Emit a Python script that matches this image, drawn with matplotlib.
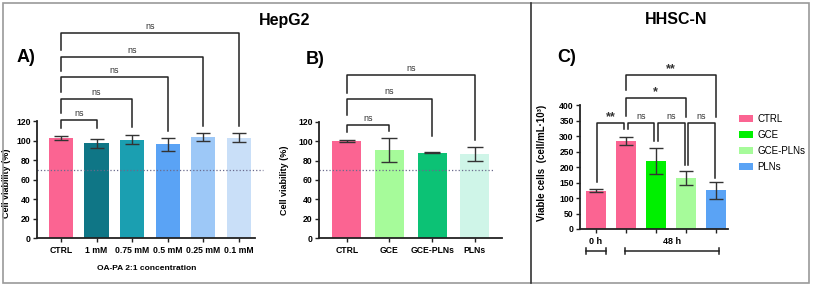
import numpy as np
import matplotlib
matplotlib.use("Agg")
import matplotlib.pyplot as plt
from matplotlib.patches import Patch, Rectangle
from matplotlib.lines import Line2D

plt.rcParams['font.family'] = ['Liberation Sans', 'DejaVu Sans']

W, H = 813, 290

# panel A - HepG2, OA-PA concentrations
a_labels = ['CTRL', '1 mM', '0.75 mM', '0.5 mM', '0.25 mM', '0.1 mM']
a_means = [103, 97, 101, 96, 103.5, 103]
a_err = [2, 5, 5, 7, 4.5, 5]
a_colors = ['#fb6492', '#0f7686', '#1b9fb1', '#5aa3f5', '#9dc8f7', '#c9dff8']

# panel B - HepG2, treatments
b_labels = ['CTRL', 'GCE', 'GCE-PLNs', 'PLNs']
b_means = [100, 91, 88, 87]
b_err = [1, 12.5, 0.5, 7]
b_colors = ['#fb6492', '#a6fb9a', '#0cc275', '#cff5e8']

# panel C - HHSC-N viable cells
c_groups = ['CTRL', 'CTRL', 'GCE', 'GCE-PLNs', 'PLNs']
c_means = [124, 285, 220, 165, 125]
c_err = [4, 14, 42, 22, 28]
c_colors = ['#fb6492', '#fb6492', '#00f000', '#a6fb9a', '#5aa3f5']
legend_labels = ['CTRL', 'GCE', 'GCE-PLNs', 'PLNs']
legend_colors = ['#fb6492', '#00f000', '#a6fb9a', '#5aa3f5']

# significance brackets: (x1, x2, level, left leg end, right leg end, text)
a_brackets = [(0, 1, 121, 113, 113, 'ns'), (0, 2, 143, 128, 114, 'ns'),
              (0, 3, 165, 150, 110, 'ns'), (0, 4, 186, 171, 115, 'ns'),
              (0, 5, 210, 193, 115, 'ns')]
b_brackets = [(0, 1, 117, 110, 111, 'ns'), (0, 2, 144, 127, 105, 'ns'),
              (0, 3, 168, 150, 101, 'ns')]
c_brackets = [(1.0, 4.0, 498, 450, 363, '**'), (1.0, 3.0, 423, 366, 363, '*'),
              (0.02, 0.95, 342, 152, 324, '**'), (1.06, 1.95, 342, 324, 285, 'ns'),
              (2.06, 2.98, 342, 285, 207, 'ns'), (3.07, 3.98, 342, 207, 165, 'ns')]

line_col = '#222222'

fig = plt.figure(figsize=(W / 100, H / 100), dpi=100)


def add_ax(left, right, bottom, top):
    return fig.add_axes([left / W, 1 - bottom / H, (right - left) / W, (bottom - top) / H])


def style(ax, ymax, step):
    for s in ['top', 'right']:
        ax.spines[s].set_visible(False)
    ax.spines['left'].set_bounds(0, ymax)
    for s in ['left', 'bottom']:
        ax.spines[s].set_linewidth(1.3)
        ax.spines[s].set_color(line_col)
    ax.set_yticks(np.arange(0, ymax + 1, step))
    ax.tick_params(axis='both', length=3, width=1, color=line_col, labelsize=6.2, pad=1.5)
    for t in ax.get_yticklabels() + ax.get_xticklabels():
        t.set_fontweight('bold')


def draw_brackets(ax, brackets):
    for x1, x2, y, e1, e2, txt in brackets:
        ax.plot([x1, x1, x2, x2], [e1, y, y, e2], color=line_col, lw=1.1, clip_on=False)
        star = '*' in txt
        ax.annotate(txt, ((x1 + x2) / 2, y), xytext=(0, 0 if star else 1.5),
                    textcoords='offset points', ha='center', va='bottom',
                    fontsize=9 if star else 6.5, color='#333333',
                    fontweight='bold' if star else 'normal')


# ---- A
ax = add_ax(37, 255, 238, 25)
xa = np.arange(len(a_labels))
ax.bar(xa, a_means, width=0.68, color=a_colors)
ax.errorbar(xa, a_means, yerr=a_err, fmt='none', ecolor='#333333', elinewidth=1, capsize=5, capthick=1)
ax.set_xlim(-0.676, 5.46)
ax.set_ylim(0, 218.5)
ax.set_xticks(xa)
ax.set_xticklabels(a_labels)
style(ax, 120, 20)
ax.tick_params(axis='x', pad=3)
ax.plot([-0.676, 5.69], [70, 70], ls=':', color='#6a6a8c', lw=0.9, clip_on=False)
draw_brackets(ax, a_brackets)
ax.set_ylabel('Cell viability (%)', fontsize=6.5, fontweight='bold')
ax.yaxis.set_label_coords(-0.119, 0.258)
ax.set_xlabel('OA-PA 2:1 concentration', fontsize=6, fontweight='bold')
ax.xaxis.set_label_coords(0.505, -0.127)

# ---- B
ax = add_ax(319, 502, 238, 25)
xb = np.arange(len(b_labels))
ax.bar(xb, b_means, width=0.68, color=b_colors)
ax.errorbar(xb, b_means, yerr=b_err, fmt='none', ecolor='#333333', elinewidth=1, capsize=6, capthick=1)
ax.set_xlim(-0.649, 3.637)
ax.set_ylim(0, 220)
ax.set_xticks(xb)
ax.set_xticklabels(b_labels)
style(ax, 120, 20)
ax.tick_params(axis='x', pad=3)
ax.plot([-0.649, 3.43], [70, 70], ls=':', color='#6a6a8c', lw=0.9, clip_on=False)
draw_brackets(ax, b_brackets)
ax.set_ylabel('Cell viability (%)', fontsize=6.5, fontweight='bold')
ax.yaxis.set_label_coords(-0.164, 0.272)

# ---- C
ax = add_ax(580, 728, 229, 50)
xc = np.arange(len(c_groups))
ax.bar(xc, c_means, width=0.67, color=c_colors)
ax.errorbar(xc, c_means, yerr=c_err, fmt='none', ecolor='#333333', elinewidth=1, capsize=5, capthick=1)
ax.set_xlim(-0.535, 4.41)
ax.set_ylim(0, 579)
ax.set_xticks(xc)
ax.set_xticklabels([])
style(ax, 400, 50)
draw_brackets(ax, c_brackets)
ax.set_ylabel('Viable cells  (cell/mL·10³)', fontsize=7, fontweight='bold')
ax.yaxis.set_label_coords(-0.223, 0.369)
tr = ax.get_xaxis_transform()
for x1, x2, lab in [(-0.33, 0.33, '0 h'), (0.97, 4.11, '48 h')]:
    ax.plot([x1, x2], [-0.123, -0.123], color=line_col, lw=1.1, transform=tr, clip_on=False)
    for xx in (x1, x2):
        ax.plot([xx, xx], [-0.106, -0.140], color=line_col, lw=1.1, transform=tr, clip_on=False)
    ax.text((x1 + x2) / 2, -0.072, lab, transform=tr, ha='center', va='center',
            fontsize=6.5, fontweight='bold')

handles = [Patch(facecolor=c, edgecolor='none') for c in legend_colors]
fig.legend(handles, legend_labels, loc='upper left', bbox_to_anchor=(739 / W, 1 - 114 / H),
           frameon=False, fontsize=7, borderpad=0, borderaxespad=0, handlelength=1.45,
           handleheight=0.8, labelspacing=0.62, handletextpad=0.45)

# ---- titles, panel letters, frame
fig.text(285 / W, 1 - 20 / H, 'HepG2', ha='center', va='center', fontsize=11.5, fontweight='bold')
fig.text(676 / W, 1 - 20 / H, 'HHSC-N', ha='center', va='center', fontsize=11.5, fontweight='bold')
fig.text(17 / W, 1 - 58 / H, 'A)', ha='left', va='center', fontsize=13, fontweight='bold')
fig.text(306 / W, 1 - 60 / H, 'B)', ha='left', va='center', fontsize=13, fontweight='bold')
fig.text(557 / W, 1 - 58 / H, 'C)', ha='left', va='center', fontsize=13, fontweight='bold')

fig.patches.append(Rectangle((3 / W, 1 - 283 / H), 806 / W, 280 / H, transform=fig.transFigure,
                             fill=False, edgecolor='#9a9a9a', lw=1.2))
fig.lines.append(Line2D([531 / W, 531 / W], [1 - 3 / H, 1 - 283 / H], transform=fig.transFigure,
                        color='#333333', lw=1.2))

fig.savefig('out.png', dpi=100)
